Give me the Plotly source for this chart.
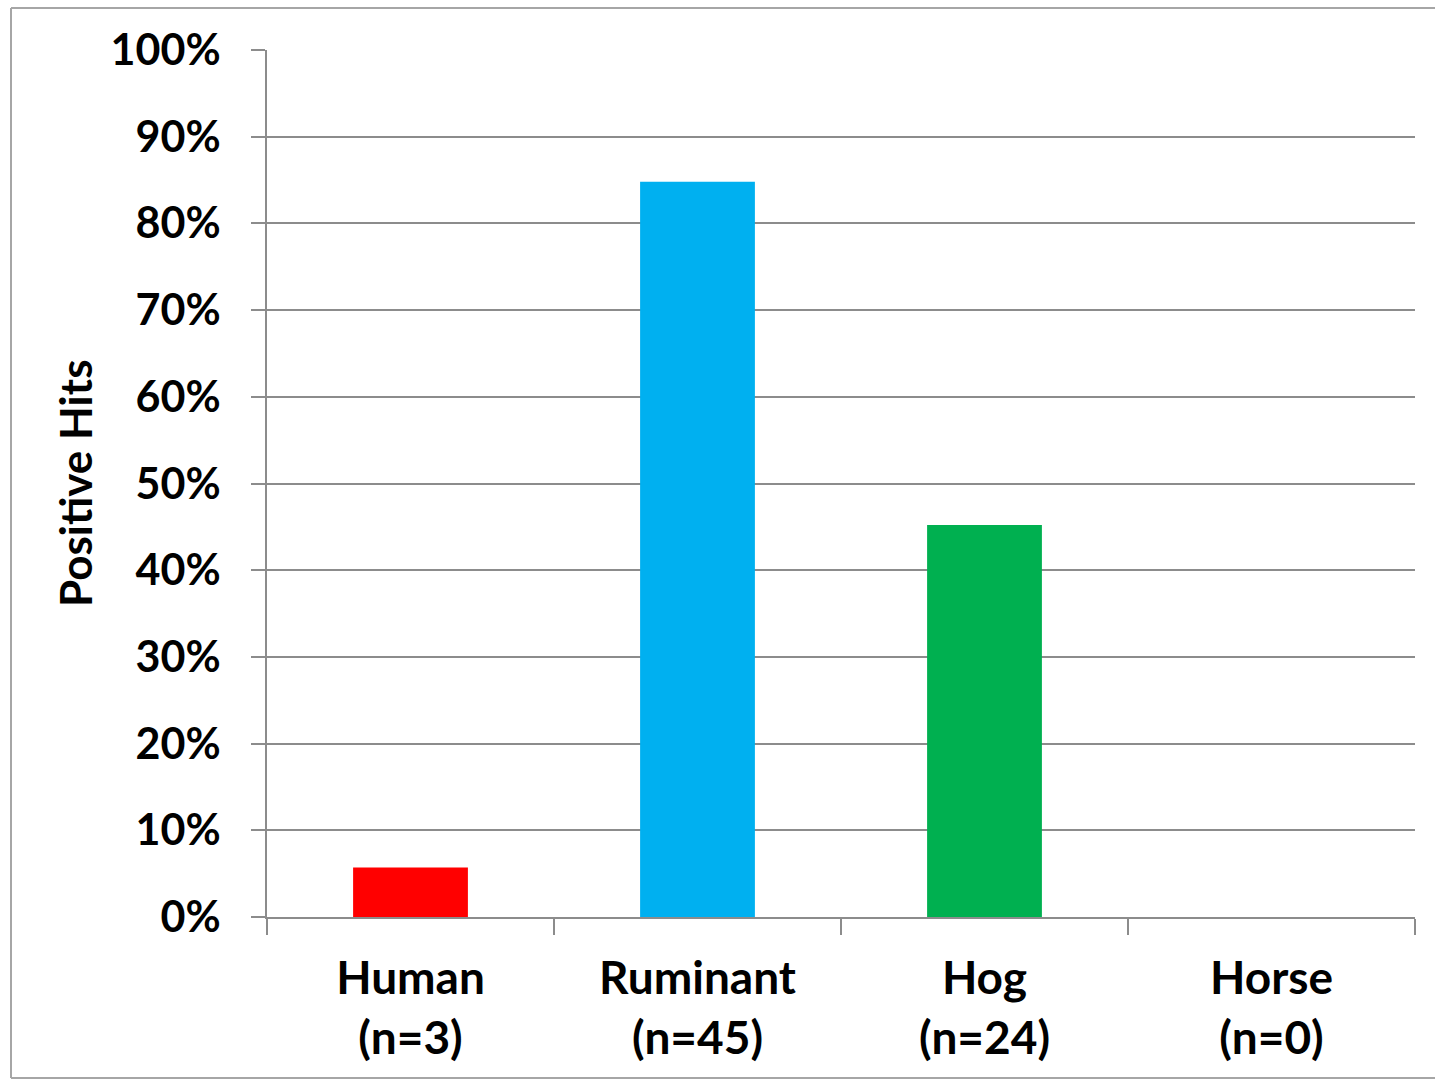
import plotly.graph_objects as go

# Share of samples with positive hits, by host group
categories = ["Human<br>(n=3)", "Ruminant<br>(n=45)", "Hog<br>(n=24)", "Horse<br>(n=0)"]
positive_share = [0.057, 0.848, 0.452, 0.0]
bar_colors = ["#FF0000", "#00B0F0", "#00B050", "#7F7F7F"]

y_title = "Positive Hits"

W, H = 1435, 1081
L, R, T, B = 267, 20, 50, 164
plot_w = W - L - R
plot_h = H - T - B

def px_to_paper_x(px):
    return (px - L) / plot_w

def px_to_paper_y(py):
    return (H - B - py) / plot_h

FONT = "Lato"
GRID = "#8C8C8C"
FRAME = "#A6A6A6"

fig = go.Figure(
    go.Bar(
        x=categories,
        y=positive_share,
        marker=dict(color=bar_colors, line=dict(width=0)),
        width=0.4,
        showlegend=False,
    )
)

fig.update_layout(
    width=W,
    height=H,
    margin=dict(l=L, r=R, t=T, b=B),
    paper_bgcolor="white",
    plot_bgcolor="white",
    font=dict(family=FONT, color="black"),
    bargap=0.6,
)

fig.update_yaxes(
    range=[0, 1],
    dtick=0.1,
    tickformat=".0%",
    showgrid=True,
    gridcolor=GRID,
    gridwidth=1.5,
    showline=True,
    linecolor=GRID,
    linewidth=1.5,
    ticks="outside",
    ticklen=14,
    tickcolor=GRID,
    tickwidth=1.5,
    ticklabelstandoff=22,
    tickfont=dict(family=FONT, size=43, color="black", weight="bold"),
    zeroline=False,
)

fig.update_xaxes(
    type="category",
    tickson="boundaries",
    ticks="outside",
    ticklen=16,
    tickcolor=GRID,
    tickwidth=1.5,
    showline=True,
    linecolor=GRID,
    linewidth=1.5,
    showgrid=False,
    ticklabelstandoff=20,
    tickfont=dict(family=FONT, size=46, color="black", weight="bold"),
)

# Rotated axis title
fig.add_annotation(
    text=y_title,
    xref="paper",
    yref="paper",
    x=px_to_paper_x(75),
    y=px_to_paper_y(483),
    xanchor="center",
    yanchor="middle",
    textangle=-90,
    showarrow=False,
    font=dict(family=FONT, size=44, color="black", weight="bold"),
)

# Chart frame: left, top and bottom edges (right edge falls off the page)
frame_left, frame_right, frame_top, frame_bottom = 11, 1470, 8, 1078
for x0, y0, x1, y1 in [
    (frame_left, frame_top, frame_left, frame_bottom),
    (frame_left, frame_top, frame_right, frame_top),
    (frame_left, frame_bottom, frame_right, frame_bottom),
]:
    fig.add_shape(
        type="line",
        xref="paper",
        yref="paper",
        x0=px_to_paper_x(x0),
        y0=px_to_paper_y(y0),
        x1=px_to_paper_x(x1),
        y1=px_to_paper_y(y1),
        line=dict(color=FRAME, width=2),
        layer="below",
    )

fig.write_html("out.html")
